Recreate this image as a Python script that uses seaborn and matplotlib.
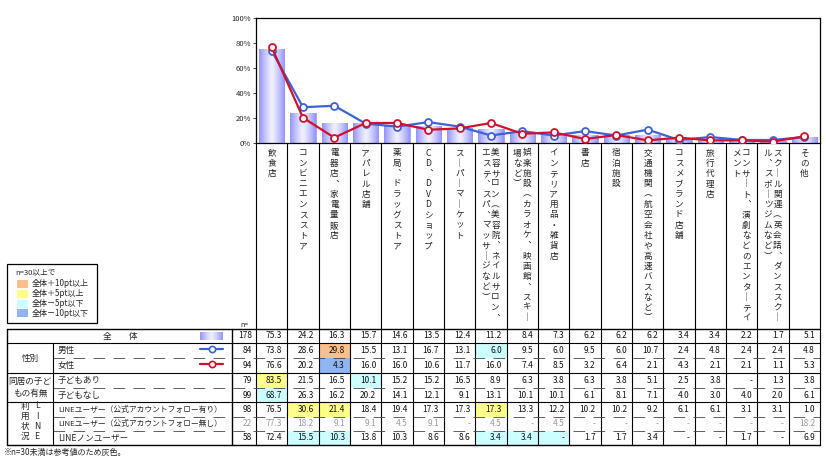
import numpy as np
import pandas as pd
import matplotlib
matplotlib.use("Agg")
import matplotlib.pyplot as plt
import seaborn as sns
from matplotlib.patches import Rectangle
from matplotlib.colors import LinearSegmentedColormap

# ---------------- data ----------------
categories = [
    "飲食店", "コンビニエンスストア", "電器店、家電量販店", "アパレル店舗",
    "薬局、ドラッグストア", "CD、DVDショップ", "スーパーマーケット",
    "美容サロン（美容院、ネイルサロン、エステ、スパ、マッサージなど）",
    "娯楽施設（カラオケ、映画館、スキー場など）", "インテリア用品・雑貨店",
    "書店", "宿泊施設", "交通機関（航空会社や高速バスなど）", "コスメブランド店舗",
    "旅行代理店", "コンサート、演劇などのエンターテイメント",
    "スクール関連（英会話、ダンススクール、スポーツジムなど）", "その他",
]
overall = [75.3, 24.2, 16.3, 15.7, 14.6, 13.5, 12.4, 11.2, 8.4, 7.3, 6.2, 6.2, 6.2, 3.4, 3.4, 2.2, 1.7, 5.1]
male = [73.8, 28.6, 29.8, 15.5, 13.1, 16.7, 13.1, 6.0, 9.5, 6.0, 9.5, 6.0, 10.7, 2.4, 4.8, 2.4, 2.4, 4.8]
female = [76.6, 20.2, 4.3, 16.0, 16.0, 10.6, 11.7, 16.0, 7.4, 8.5, 3.2, 6.4, 2.1, 4.3, 2.1, 2.1, 1.1, 5.3]
kids_yes = [83.5, 21.5, 16.5, 10.1, 15.2, 15.2, 16.5, 8.9, 6.3, 3.8, 6.3, 3.8, 5.1, 2.5, 3.8, None, 1.3, 3.8]
kids_no = [68.7, 26.3, 16.2, 20.2, 14.1, 12.1, 9.1, 13.1, 10.1, 10.1, 6.1, 8.1, 7.1, 4.0, 3.0, 4.0, 2.0, 6.1]
line_follow = [76.5, 30.6, 21.4, 18.4, 19.4, 17.3, 17.3, 17.3, 13.3, 12.2, 10.2, 10.2, 9.2, 6.1, 6.1, 3.1, 3.1, 1.0]
line_nofollow = [77.3, 18.2, 9.1, 9.1, 4.5, 9.1, None, 4.5, None, 4.5, None, None, None, None, None, None, None, 18.2]
line_non = [72.4, 15.5, 10.3, 13.8, 10.3, 8.6, 8.6, 3.4, 3.4, None, 1.7, 1.7, 3.4, None, None, 1.7, None, 6.9]

row_labels = ["全　　体", "男性", "女性", "子どもあり", "子どもなし",
              "LINEユーザー（公式アカウントフォロー有り）",
              "LINEユーザー（公式アカウントフォロー無し）", "LINEノンユーザー"]
row_n = [178, 84, 94, 79, 99, 98, 22, 58]
table_rows = [overall, male, female, kids_yes, kids_no, line_follow, line_nofollow, line_non]

yticks = [0, 20, 40, 60, 80, 100]
legend_labels = ["全体＋10pt以上", "全体＋5pt以上", "全体－5pt以下", "全体－10pt以下"]

# ---------------- style ----------------
sns.set_theme(style="white")
FAM = ["Noto Sans CJK JP", "DejaVu Sans"]
plt.rcParams["font.family"] = FAM

BLUE = "#3c62d6"
RED = "#d0102c"
C_ORANGE = "#fabf8f"
C_YELLOW = "#ffff8c"
C_CYAN = "#ccffff"
C_BLUE = "#8fb6f2"
legend_colors = [C_ORANGE, C_YELLOW, C_CYAN, C_BLUE]
bar_cmap = LinearSegmentedColormap.from_list("bar", ["#f0f0ff", "#c2c2ff", "#9494fa"])
grad = np.abs(np.linspace(-1, 1, 64))[None, :] ** 1.2

W, H = 826, 466
fig = plt.figure(figsize=(W / 100, H / 100), dpi=100)
fig.patch.set_facecolor("white")

ov = fig.add_axes([0, 0, 1, 1], zorder=0)
ov.set_xlim(0, W)
ov.set_ylim(H, 0)
ov.axis("off")

X0, X1 = 256, 820
Y_TOP, Y_BASE = 18, 143
ax = fig.add_axes([X0 / W, 1 - Y_BASE / H, (X1 - X0) / W, (Y_BASE - Y_TOP) / H], zorder=2)
ax.patch.set_alpha(0)

# ---------------- chart ----------------
df = pd.DataFrame({"cat": categories, "overall": overall})
sns.barplot(data=df, x="cat", y="overall", ax=ax, color="#c2c2ff",
            width=0.8, edgecolor="#8c8cf0", linewidth=0.5, zorder=1)
for p in list(ax.patches):
    x, y, w, h = p.get_x(), p.get_y(), p.get_width(), p.get_height()
    im = ax.imshow(grad, extent=[x, x + w, y, y + h], aspect="auto",
                   cmap=bar_cmap, vmin=0, vmax=1, zorder=1.2, interpolation="bilinear")
    im.set_clip_path(p)

pos = np.arange(len(categories))
sns.lineplot(x=pos, y=male, ax=ax, color=BLUE, linewidth=1.6, marker="o",
             markersize=5, markerfacecolor="white", markeredgecolor=BLUE,
             markeredgewidth=1.3, zorder=4)
sns.lineplot(x=pos, y=female, ax=ax, color=RED, linewidth=1.6, marker="o",
             markersize=5, markerfacecolor="white", markeredgecolor=RED,
             markeredgewidth=1.3, zorder=5)

ax.set_xlim(-0.5, len(categories) - 0.5)
ax.set_ylim(0, 100)
ax.set_yticks(yticks)
ax.set_yticklabels([f"{v}%" for v in yticks], fontsize=5.5)
ax.set_xticks([])
ax.set_xlabel("")
ax.set_ylabel("")
ax.tick_params(axis="y", length=2, width=0.6, pad=1.5, left=True)
for s in ax.spines.values():
    s.set_color("black")
    s.set_linewidth(0.9)

# ---------------- category labels (vertical text) ----------------
ncol = len(categories)
cw = (X1 - X0) / ncol
vert_map = {"ー": "｜", "（": "︵", "）": "︶", "、": "︑"}
for k in range(ncol + 1):
    ov.plot([X0 + k * cw, X0 + k * cw], [Y_BASE, 445], color="black", lw=0.8, zorder=3)
for i, name in enumerate(categories):
    cx = X0 + (i + 0.5) * cw
    chunks = [name[j:j + 17] for j in range(0, len(name), 17)]
    offs = [0.0] if len(chunks) == 1 else [4.5, -5.0]
    for chunk, dx in zip(chunks, offs):
        for m, ch in enumerate(chunk):
            ov.text(cx + dx, 153 + m * 10.3, vert_map.get(ch, ch), ha="center",
                    va="center", fontsize=6.2, color="#222222", zorder=4)

# ---------------- legend box ----------------
ov.add_patch(Rectangle((7, 264), 90, 59, fill=False, ec="black", lw=0.9, zorder=3))
ov.text(15, 272, "n=30以上で", fontsize=5.5, va="center", ha="left")
for j, (lab, col) in enumerate(zip(legend_labels, legend_colors)):
    yy = 284 + j * 9.8
    ov.add_patch(Rectangle((17, yy - 4), 11, 8, color=col, lw=0, zorder=3))
    ov.text(32, yy, lab, fontsize=5.8, va="center", ha="left")
ov.text(244, 325, "n=", fontsize=5, ha="center", va="center")

# ---------------- table ----------------
edges = [329, 343, 358, 373, 388, 402, 417, 431, 445]
solid = {0, 1, 3, 5, 8}
for idx, y in enumerate(edges):
    if idx in solid:
        ov.plot([7, X1], [y, y], color="black", lw=1.0 if idx in (0, 8) else 0.8, zorder=3)
    else:
        ov.plot([53, X1], [y, y], color="#444444", lw=0.6, ls=(0, (14, 10)), zorder=3)
ov.plot([7, 7], [329, 445], color="black", lw=1.0, zorder=3)
ov.plot([53, 53], [343, 445], color="black", lw=0.8, zorder=3)
ov.plot([232, 232], [329, 445], color="black", lw=1.0, zorder=3)


def cell_color(v, base, n):
    if n < 30:
        return None
    d = round((v if v is not None else 0.0) - base, 1)
    if d >= 10:
        return C_ORANGE
    if d >= 5:
        return C_YELLOW
    if d <= -10:
        return C_BLUE
    if d <= -5:
        return C_CYAN
    return None


for r, (vals, n, lab) in enumerate(zip(table_rows, row_n, row_labels)):
    top, bot = edges[r], edges[r + 1]
    cy = (top + bot) / 2
    txt_col = "#999999" if n < 30 else "#111111"
    ov.text(252, cy, str(n), ha="right", va="center", fontsize=6, color=txt_col, zorder=5)
    if r == 0:
        ov.text(120, cy, lab, ha="center", va="center", fontsize=6.2, zorder=5)
    else:
        fs = 5.6 if len(lab) > 12 else 6.2
        ov.text(58, cy, lab, ha="left", va="center", fontsize=fs, zorder=5)
    for c, v in enumerate(vals):
        xl = X0 + c * cw
        if r > 0:
            colr = cell_color(v, overall[c], n)
            if colr:
                ov.add_patch(Rectangle((xl, top), cw, bot - top, color=colr, lw=0, zorder=1))
        s = "-" if v is None else f"{v:.1f}"
        ov.text(xl + cw - 5, cy, s, ha="right", va="center", fontsize=6,
                color=txt_col, zorder=5)

# row icons
cy0 = (edges[0] + edges[1]) / 2
ov.add_patch(Rectangle((200, cy0 - 4), 23, 8, color="#c2c2ff", lw=0, zorder=2))
ov.imshow(grad, extent=[200, 223, cy0 + 4, cy0 - 4], aspect="auto", cmap=bar_cmap,
          vmin=0, vmax=1, zorder=2.5)
ov.set_xlim(0, W)
ov.set_ylim(H, 0)
for r, colr in ((1, BLUE), (2, RED)):
    cy = (edges[r] + edges[r + 1]) / 2 - 2
    ov.plot([200, 223], [cy, cy], color=colr, lw=1.6, zorder=4)
    ov.plot([211.5], [cy], marker="o", ms=4.5, mfc="white", mec=colr, mew=1.2, zorder=5)

# group labels
ov.text(30, (343 + 373) / 2, "性別", ha="center", va="center", fontsize=6.2)
ov.text(30, (373 + 402) / 2, "同居の子ど\nもの有無", ha="center", va="center",
        fontsize=6.2, linespacing=1.5)
for m, (a, b) in enumerate(zip("利用状況", "LINE")):
    yy = 406 + m * 10.3
    ov.text(25, yy, a, ha="center", va="center", fontsize=6.2)
    ov.text(37, yy, b, ha="center", va="center", fontsize=6.2)

ov.text(4, 452, "※n=30未満は参考値のため灰色。", ha="left", va="center", fontsize=5.8)

fig.savefig("out.png", dpi=100, facecolor="white")
